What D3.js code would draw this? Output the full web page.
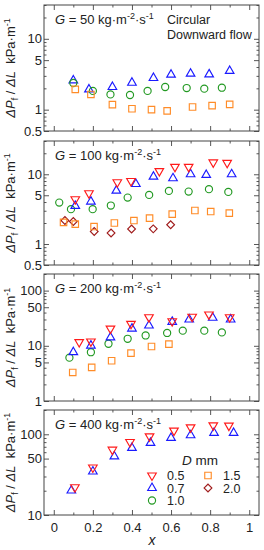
<!DOCTYPE html>
<html>
<head>
<meta charset="utf-8">
<script src="https://cdn.jsdelivr.net/npm/d3@7"></script>
<style>
body { margin: 0; background: #fff; }
text { font-family: Arial, "Liberation Sans", sans-serif; fill: #222; }
</style>
</head>
<body>
<svg id="chart" width="264" height="550"></svg>
<script>
// ---- data: [x, dP/dL] ----
var gValues = [50, 100, 200, 400];
var legendLabels = ["0.5", "0.7", "1.0", "1.5", "2.0"];
var xTickLabels = [0, 0.2, 0.4, 0.6, 0.8, 1];

// G = 50
var g50_d07 = [[0.10,2.59],[0.18,1.93],[0.30,2.09],[0.40,2.40],[0.51,2.80],[0.60,3.12],[0.70,3.22],[0.795,3.15],[0.90,3.52]];
var g50_d10 = [[0.10,2.38],[0.20,1.84],[0.29,1.64],[0.39,1.61],[0.48,1.84],[0.57,2.09],[0.68,2.02],[0.77,1.98],[0.86,2.04]];
var g50_d15 = [[0.11,1.93],[0.19,1.64],[0.30,1.18],[0.40,1.03],[0.50,1.00],[0.58,0.96],[0.71,1.09],[0.81,1.14],[0.90,1.19]];
// G = 100
var g100_d05 = [[0.11,4.39],[0.18,5.35],[0.325,7.69],[0.395,8.02],[0.54,11.1],[0.62,12.8],[0.69,12.8],[0.816,14.8],[0.887,14.6]];
var g100_d07 = [[0.11,3.52],[0.19,4.06],[0.32,5.83],[0.42,7.26],[0.51,9.25],[0.61,8.77],[0.70,10.0],[0.78,9.78],[0.91,10.0]];
var g100_d10 = [[0.028,3.93],[0.088,3.16],[0.199,3.16],[0.292,3.56],[0.378,4.63],[0.488,5.06],[0.589,5.77],[0.69,5.64],[0.794,6.11],[0.893,5.58]];
var g100_d15 = [[0.05,2.04],[0.11,1.93],[0.206,1.78],[0.31,2.00],[0.41,2.17],[0.49,2.35],[0.606,2.68],[0.722,3.02],[0.803,2.92],[0.898,2.77]];
var g100_d20 = [[0.057,2.17],[0.10,2.10],[0.207,1.51],[0.293,1.44],[0.398,1.64],[0.509,1.65],[0.598,1.89]];
// G = 200
var g200_d05 = [[0.13,11.7],[0.19,12.0],[0.29,20.5],[0.395,25.0],[0.487,33.0],[0.606,27.9],[0.708,33.6],[0.794,37.0],[0.90,33.0]];
var g200_d07 = [[0.10,7.66],[0.19,10.1],[0.29,14.2],[0.40,20.5],[0.487,23.3],[0.606,27.2],[0.693,30.0],[0.813,32.2],[0.905,30.0]];
var g200_d10 = [[0.08,6.1],[0.19,7.66],[0.28,10.9],[0.378,13.4],[0.47,15.4],[0.58,17.1],[0.66,18.8],[0.77,18.8],[0.86,17.5]];
var g200_d15 = [[0.097,3.29],[0.194,4.07],[0.296,5.37],[0.395,7.35],[0.50,9.71],[0.589,10.7]];
// G = 400
var g400_d05 = [[0.108,22.1],[0.20,38.8],[0.30,64.5],[0.39,80.3],[0.49,94.4],[0.615,111],[0.70,122],[0.816,129],[0.896,128]];
var g400_d07 = [[0.09,20.1],[0.20,34.6],[0.31,53.2],[0.40,67.7],[0.495,78.2],[0.60,90.2],[0.70,97.2],[0.82,104],[0.92,104]];

var yDomains = [[0.5, 30], [0.5, 30], [1, 200], [10, 200]];
var yLabelTicks = [[0.5, 1, 5, 10], [0.5, 1, 5, 10], [1, 5, 10, 50, 100], [10, 50, 100]];

// series per panel, keyed by diameter index
var panelSeries = [
  [[1, g50_d07], [2, g50_d10], [3, g50_d15]],
  [[4, g100_d20], [3, g100_d15], [2, g100_d10], [1, g100_d07], [0, g100_d05]],
  [[3, g200_d15], [2, g200_d10], [1, g200_d07], [0, g200_d05]],
  [[1, g400_d07], [0, g400_d05]]
];

// ---- layout ----
var svg = d3.select("#chart");
var left = 44, right = 259;
var tops = [5, 141, 274, 410], bottoms = [131, 265, 401, 515];

var colors = ["#ff1a1a", "#1a1aff", "#229922", "#ff8c28", "#a01c1c"];

var x = d3.scaleLinear().domain([-0.05, 1.05]).range([left, right]);

function marker(k) {
  if (k == 0 || k == 1) return d3.symbol(d3.symbolTriangle, 32)();
  if (k == 2) return d3.symbol(d3.symbolCircle, 40)();
  if (k == 3) return d3.symbol(d3.symbolSquare, 42)();
  return d3.symbol(d3.symbolSquare, 30)();
}
function markerRot(k) {
  if (k == 0) return " rotate(180)";
  if (k == 4) return " rotate(45)";
  return "";
}

function yLabel(g, cy) {
  var t = g.append("text")
    .attr("transform", "translate(15," + cy + ") rotate(-90)")
    .attr("text-anchor", "middle")
    .attr("font-size", 13);
  t.append("tspan").attr("font-style", "italic").text("ΔP");
  t.append("tspan").attr("font-size", 9).attr("dy", 3).text("f");
  t.append("tspan").attr("dy", -3).text(" / ");
  t.append("tspan").attr("font-style", "italic").text("ΔL");
  t.append("tspan").text("\u00a0 kPa·m");
  t.append("tspan").attr("font-size", 9).attr("dy", -5).text("-1");
}

function gLabel(g, yb, val) {
  var t = g.append("text").attr("x", 55).attr("y", yb).attr("font-size", 13);
  t.append("tspan").attr("font-style", "italic").text("G");
  t.append("tspan").text(" = " + val + " kg·m");
  t.append("tspan").attr("font-size", 9).attr("dy", -5).text("-2");
  t.append("tspan").attr("dy", 5).text("·s");
  t.append("tspan").attr("font-size", 9).attr("dy", -5).text("-1");
}

gValues.forEach(function(gv, i) {
  var top = tops[i], bot = bottoms[i];
  var y = d3.scaleLog().domain(yDomains[i]).range([bot, top]);
  var g = svg.append("g");

  var labelled = yLabelTicks[i];
  var minor = y.ticks().filter(function(v) {
    return !labelled.some(function(l) { return Math.abs(l - v) < 1e-9; });
  });

  // y axes (inward ticks, mirrored on right)
  var yl = g.append("g").attr("transform", "translate(" + left + ",0)")
    .call(d3.axisLeft(y).tickValues(labelled).tickSize(-5).tickPadding(2).tickFormat(d3.format("")));
  yl.selectAll("text").attr("font-size", 13).attr("font-family", null);
  g.append("g").attr("transform", "translate(" + left + ",0)")
    .call(d3.axisLeft(y).tickValues(minor).tickSize(-2.5).tickFormat(""));
  g.append("g").attr("transform", "translate(" + right + ",0)")
    .call(d3.axisRight(y).tickValues(labelled).tickSize(-5).tickFormat(""));
  g.append("g").attr("transform", "translate(" + right + ",0)")
    .call(d3.axisRight(y).tickValues(minor).tickSize(-2.5).tickFormat(""));

  // x axes
  var xb = g.append("g").attr("transform", "translate(0," + bot + ")")
    .call(d3.axisBottom(x).tickValues(xTickLabels).tickSize(-5).tickPadding(8)
      .tickFormat(i == 3 ? d3.format("") : ""));
  xb.selectAll("text").attr("font-size", 13).attr("font-family", null);
  g.append("g").attr("transform", "translate(0," + bot + ")")
    .call(d3.axisBottom(x).tickValues([0.1, 0.3, 0.5, 0.7, 0.9]).tickSize(-2.5).tickFormat(""));
  g.append("g").attr("transform", "translate(0," + top + ")")
    .call(d3.axisTop(x).tickValues(xTickLabels).tickSize(-5).tickFormat(""));
  g.append("g").attr("transform", "translate(0," + top + ")")
    .call(d3.axisTop(x).tickValues([0.1, 0.3, 0.5, 0.7, 0.9]).tickSize(-2.5).tickFormat(""));

  g.selectAll(".domain").remove();
  g.selectAll(".tick line").attr("stroke", "#444").attr("stroke-width", 0.9);

  g.append("rect")
    .attr("x", left).attr("y", top)
    .attr("width", right - left).attr("height", bot - top)
    .attr("fill", "none").attr("stroke", "#444").attr("stroke-width", 1);

  // points
  panelSeries[i].forEach(function(s) {
    var k = s[0];
    g.append("g").selectAll("path")
      .data(s[1])
      .enter().append("path")
        .attr("d", marker(k))
        .attr("transform", function(d) {
          return "translate(" + x(d[0]) + "," + y(d[1]) + ")" + markerRot(k);
        })
        .attr("fill", "none")
        .attr("stroke", colors[k])
        .attr("stroke-width", 1.15);
  });

  yLabel(g, (top + bot) / 2);
  gLabel(g, top + 19, gv);
});

// annotation in top panel
svg.append("text").attr("x", 167).attr("y", 24).attr("font-size", 12.5).text("Circular");
svg.append("text").attr("x", 167).attr("y", 39).attr("font-size", 12.5).text("Downward flow");

// x axis title
svg.append("text").attr("x", 152).attr("y", 545).attr("text-anchor", "middle")
  .attr("font-size", 14).attr("font-style", "italic").text("x");

// legend
var leg = svg.append("g");
var head = leg.append("text").attr("x", 182).attr("y", 465).attr("font-size", 13.5);
head.append("tspan").attr("font-style", "italic").text("D");
head.append("tspan").text(" mm");

var legPos = [[152, 475.5], [152, 488], [152, 500.5], [208, 475.5], [208, 488]];
legendLabels.forEach(function(lab, k) {
  var p = legPos[k];
  leg.append("path")
    .attr("d", marker(k))
    .attr("transform", "translate(" + p[0] + "," + p[1] + ")" + markerRot(k))
    .attr("fill", "none").attr("stroke", colors[k]).attr("stroke-width", 1.15);
  leg.append("text").attr("x", p[0] + 15).attr("y", p[1] + 4.5)
    .attr("font-size", 12.5).text(lab);
});
</script>
</body>
</html>
